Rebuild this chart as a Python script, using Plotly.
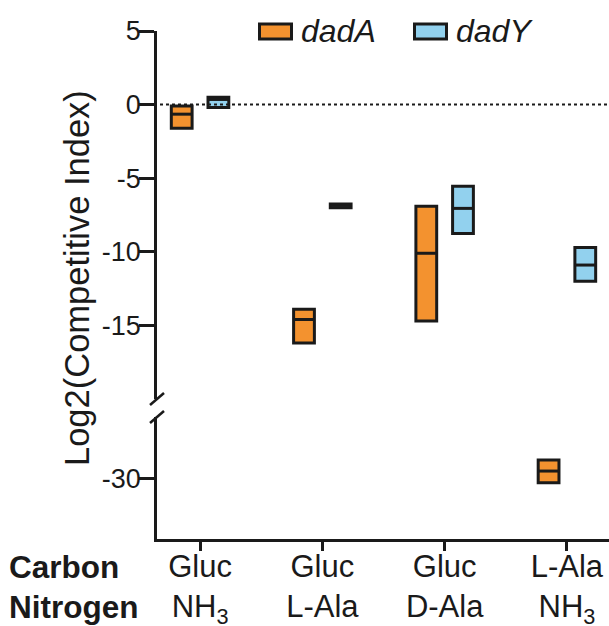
import plotly.graph_objects as go

# ---------------- data ----------------
categories = ["Gluc<br>NH<sub>3</sub>", "Gluc<br>L-Ala", "Gluc<br>D-Ala", "L-Ala<br>NH<sub>3</sub>"]
series_names = ["dadA", "dadY"]
dadA_low = [-1.6, -16.2, -14.7, -30.3]
dadA_med = [-0.65, -14.6, -10.1, -29.5]
dadA_high = [-0.1, -13.9, -6.9, -28.75]
dadY_low = [-0.2, -7.0, -8.75, -12.0]
dadY_med = [0.35, -6.85, -7.05, -10.9]
dadY_high = [0.5, -6.75, -5.55, -9.7]
upper_ticks = [5, 0, -5, -10, -15]
upper_tick_labels = ["5", "0", "-5", "-10", "-15"]
lower_ticks = [-30]
lower_tick_labels = ["-30"]
row_labels = ["Carbon", "Nitrogen"]

colors = {"dadA": "#F3922F", "dadY": "#92D1EE"}
offsets = {"dadA": -0.15, "dadY": 0.15}
BW = 0.17
FONT = "Arial, Liberation Sans, sans-serif"
INK = "#1a1a1a"

W, H = 609, 626
L, R, T, B = 157, 0, 31, 87
PW, PH = W - L - R, H - T - B


def px2paper(x, y):
    return (x - L) / PW, (H - B - y) / PH


fig = go.Figure()
data = {
    "dadA": (dadA_low, dadA_med, dadA_high),
    "dadY": (dadY_low, dadY_med, dadY_high),
}
xs = list(range(len(categories)))
for name in series_names:
    low, med, high = data[name]
    xpos = [x + offsets[name] for x in xs]
    for yax in ["y", "y2"]:
        fig.add_trace(go.Bar(
            x=xpos, y=[h - l for h, l in zip(high, low)], base=low,
            width=BW, marker=dict(color=colors[name], line=dict(color=INK, width=3)),
            yaxis=yax, xaxis="x", showlegend=False, name=name, hoverinfo="skip",
        ))
        mx, my = [], []
        for xp, m in zip(xpos, med):
            mx += [xp - BW / 2, xp + BW / 2, None]
            my += [m, m, None]
        fig.add_trace(go.Scatter(
            x=mx, y=my, mode="lines", line=dict(color=INK, width=3),
            yaxis=yax, xaxis="x", showlegend=False, hoverinfo="skip",
        ))

up_dom = [px2paper(0, 399)[1], 1]
lo_dom = [0, px2paper(0, 417)[1]]

axis_common = dict(
    showline=True, linecolor=INK, linewidth=2.5, ticks="outside", ticklen=15,
    tickwidth=2.5, tickcolor=INK, showgrid=False, zeroline=False,
    tickfont=dict(family=FONT, size=27, color=INK), ticklabelstandoff=-7,
)

fig.update_layout(
    width=W, height=H, margin=dict(l=L, r=R, t=T, b=B, autoexpand=False),
    plot_bgcolor="white", paper_bgcolor="white", barmode="overlay",
    xaxis=dict(
        range=[-0.352, 3.344], tickvals=xs, ticktext=categories, anchor="y2",
        showline=True, linecolor=INK, linewidth=2.5, ticks="outside", ticklen=9,
        tickwidth=2.5, tickcolor=INK, showgrid=False, zeroline=False,
        tickfont=dict(family=FONT, size=31, color=INK), ticklabelstandoff=-11,
    ),
    yaxis=dict(domain=up_dom, range=[-20, 5], tickvals=upper_ticks,
               ticktext=upper_tick_labels, anchor="x", **axis_common),
    yaxis2=dict(domain=lo_dom, range=[-34.15, -25.8], tickvals=lower_ticks,
                ticktext=lower_tick_labels, anchor="x", **axis_common),
)

# zero reference line
fig.add_shape(type="line", xref="paper", yref="y", x0=px2paper(160, 0)[0], x1=1, y0=0, y1=0,
              line=dict(color=INK, width=2, dash="dot"))

# axis break slashes
for (x0, y0, x1, y1) in [(150, 405, 164, 393), (150, 423, 164, 411)]:
    a = px2paper(x0, y0)
    b = px2paper(x1, y1)
    fig.add_shape(type="line", xref="paper", yref="paper", x0=a[0], y0=a[1], x1=b[0], y1=b[1],
                  line=dict(color=INK, width=2.5))

# y title
tx, ty = px2paper(77, 278)
fig.add_annotation(text="Log2(Competitive Index)", xref="paper", yref="paper", x=tx, y=ty,
                   textangle=-90, showarrow=False, xanchor="center", yanchor="middle",
                   font=dict(family=FONT, size=34.5, color=INK))

# row labels
for lab, py in zip(row_labels, [567, 607]):
    lx, ly = px2paper(7, py)
    fig.add_annotation(text="<b>%s</b>" % lab, xref="paper", yref="paper", x=lx, y=ly,
                       showarrow=False, xanchor="left", yanchor="middle",
                       font=dict(family=FONT, size=31.5, color=INK))

# custom legend
for name, sx in zip(series_names, [258, 413]):
    a = px2paper(sx + 1.5, 24)
    b = px2paper(sx + 33.5, 39)
    fig.add_shape(type="rect", xref="paper", yref="paper", x0=a[0], y0=a[1], x1=b[0], y1=b[1],
                  fillcolor=colors[name], line=dict(color=INK, width=3))
    tx, ty = px2paper(sx + 41, 31)
    fig.add_annotation(text="<i>%s</i>" % name, xref="paper", yref="paper", x=tx, y=ty,
                       showarrow=False, xanchor="left", yanchor="middle",
                       font=dict(family=FONT, size=32, color=INK))

fig.write_html("out.html", config={"displayModeBar": False},
               post_script="document.body.style.margin='0';")
